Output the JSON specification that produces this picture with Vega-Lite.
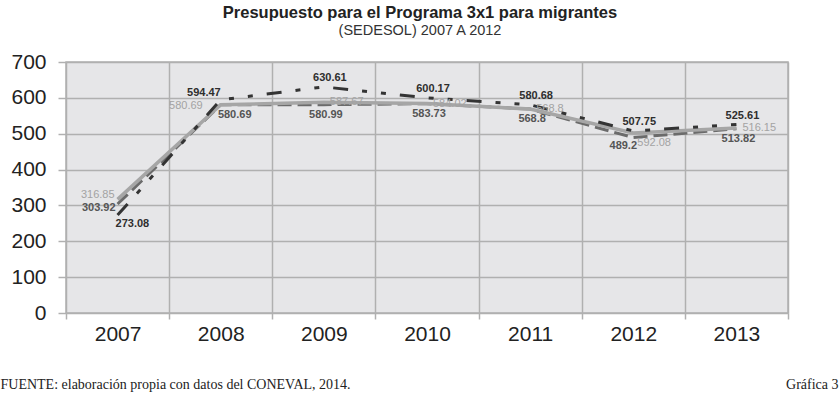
{
  "$schema": "https://vega.github.io/schema/vega-lite/v6.json",
  "width": 722,
  "height": 251,
  "autosize": {"type": "none"},
  "padding": {"left": 66, "top": 62, "right": 52, "bottom": 91},
  "background": "white",
  "config": {
    "view": {"fill": "#e6e6e8", "stroke": "#b0b0b0", "strokeWidth": 1.5},
    "font": "Liberation Sans"
  },
  "title": {
    "text": "Presupuesto para el Programa 3x1 para migrantes",
    "subtitle": "(SEDESOL) 2007 A 2012",
    "anchor": "middle",
    "font": "Liberation Sans",
    "fontSize": 16.5,
    "fontWeight": "bold",
    "color": "#222222",
    "subtitleFont": "Liberation Sans",
    "subtitleFontSize": 14.5,
    "subtitleColor": "#333333",
    "subtitlePadding": 2,
    "offset": 14,
    "dx": -7
  },
  "data": {
    "values": [
      {"year": "2007", "serie": "A", "v": 273.08, "label": "273.08"},
      {"year": "2008", "serie": "A", "v": 594.47, "label": "594.47"},
      {"year": "2009", "serie": "A", "v": 630.61, "label": "630.61"},
      {"year": "2010", "serie": "A", "v": 600.17, "label": "600.17"},
      {"year": "2011", "serie": "A", "v": 580.68, "label": "580.68"},
      {"year": "2012", "serie": "A", "v": 507.75, "label": "507.75"},
      {"year": "2013", "serie": "A", "v": 525.61, "label": "525.61"},
      {"year": "2007", "serie": "B", "v": 303.92, "label": "303.92"},
      {"year": "2008", "serie": "B", "v": 580.69, "label": "580.69"},
      {"year": "2009", "serie": "B", "v": 580.99, "label": "580.99"},
      {"year": "2010", "serie": "B", "v": 583.73, "label": "583.73"},
      {"year": "2011", "serie": "B", "v": 568.8, "label": "568.8"},
      {"year": "2012", "serie": "B", "v": 489.2, "label": "489.2"},
      {"year": "2013", "serie": "B", "v": 513.82, "label": "513.82"},
      {"year": "2007", "serie": "C", "v": 316.85, "label": "316.85"},
      {"year": "2008", "serie": "C", "v": 580.69, "label": "580.69"},
      {"year": "2009", "serie": "C", "v": 587.67, "label": "587.67"},
      {"year": "2010", "serie": "C", "v": 584.02, "label": "584.02"},
      {"year": "2011", "serie": "C", "v": 568.8, "label": "568.8"},
      {"year": "2012", "serie": "C", "v": 502.08, "label": "592.08"},
      {"year": "2013", "serie": "C", "v": 516.15, "label": "516.15"}
    ]
  },
  "encoding": {
    "x": {
      "field": "year",
      "type": "ordinal",
      "scale": {"type": "band", "paddingInner": 0, "paddingOuter": 0},
      "bandPosition": 0.5,
      "axis": {
        "title": "FUENTE: elaboración propia con datos del CONEVAL, 2014.",
        "titleFont": "Liberation Serif",
        "titleFontSize": 14,
        "titleFontWeight": "normal",
        "titleColor": "#222222",
        "titleAnchor": "start",
        "titleAlign": "left",
        "titleBaseline": "alphabetic",
        "titleX": -66,
        "titleY": 75,
        "labelAngle": 0,
        "labelFontSize": 21,
        "labelColor": "#222222",
        "labelPadding": 4,
        "tickBand": "extent",
        "grid": true,
        "gridColor": "#b0b0b0",
        "gridWidth": 1.5,
        "domain": false,
        "tickColor": "#b0b0b0",
        "tickSize": 6,
        "tickWidth": 1.5
      }
    }
  },
  "layer": [
    {
      "transform": [{"filter": "datum.serie == 'B'"}],
      "mark": {"type": "line", "stroke": "#6b6b6b", "strokeWidth": 3, "strokeDash": [14, 6]},
      "encoding": {
        "y": {
          "field": "v",
          "type": "quantitative",
          "scale": {"domain": [0, 700], "nice": false},
          "axis": {
            "title": null,
            "values": [0, 100, 200, 300, 400, 500, 600, 700],
            "labelFontSize": 21,
            "labelColor": "#222222",
            "labelPadding": 12,
            "tickSize": 8,
            "tickColor": "#b0b0b0",
            "tickWidth": 1.5,
            "gridColor": "#b0b0b0",
            "gridWidth": 1.5,
            "domain": false
          }
        }
      }
    },
    {
      "transform": [{"filter": "datum.serie == 'C'"}],
      "mark": {"type": "line", "stroke": "#a6a6a6", "strokeWidth": 3.5},
      "encoding": {"y": {"field": "v", "type": "quantitative", "axis": null}}
    },
    {
      "transform": [{"filter": "datum.serie == 'A'"}],
      "mark": {"type": "line", "stroke": "#343434", "strokeWidth": 3, "strokeDash": [15, 14, 5, 14, 5, 14]},
      "encoding": {"y": {"field": "v", "type": "quantitative", "axis": null}}
    },
    {
      "transform": [{"filter": "datum.serie == 'A' && datum.year != '2007' && datum.year != '2008'"}],
      "mark": {"type": "text", "fontSize": 11, "fontWeight": "bold", "color": "#2e2e2e", "align": "center", "baseline": "middle", "dx": 6, "dy": -9},
      "encoding": {"y": {"field": "v", "type": "quantitative", "axis": null}, "text": {"field": "label"}}
    },
    {
      "transform": [{"filter": "datum.serie == 'A' && datum.year == '2008'"}],
      "mark": {"type": "text", "fontSize": 11, "fontWeight": "bold", "color": "#2e2e2e", "align": "right", "baseline": "middle", "dx": 0, "dy": -7},
      "encoding": {"y": {"field": "v", "type": "quantitative", "axis": null}, "text": {"field": "label"}}
    },
    {
      "transform": [{"filter": "datum.serie == 'A' && datum.year == '2007'"}],
      "mark": {"type": "text", "fontSize": 11, "fontWeight": "bold", "color": "#2e2e2e", "align": "left", "baseline": "middle", "dx": -2, "dy": 9},
      "encoding": {"y": {"field": "v", "type": "quantitative", "axis": null}, "text": {"field": "label"}}
    },
    {
      "transform": [{"filter": "datum.serie == 'B' && datum.year != '2007' && datum.year != '2008' && datum.year != '2012'"}],
      "mark": {"type": "text", "fontSize": 11, "fontWeight": "bold", "color": "#555555", "align": "center", "baseline": "middle", "dx": 2, "dy": 10},
      "encoding": {"y": {"field": "v", "type": "quantitative", "axis": null}, "text": {"field": "label"}}
    },
    {
      "transform": [{"filter": "datum.serie == 'B' && datum.year == '2008'"}],
      "mark": {"type": "text", "fontSize": 11, "fontWeight": "bold", "color": "#555555", "align": "center", "baseline": "middle", "dx": 14, "dy": 10},
      "encoding": {"y": {"field": "v", "type": "quantitative", "axis": null}, "text": {"field": "label"}}
    },
    {
      "transform": [{"filter": "datum.serie == 'B' && datum.year == '2012'"}],
      "mark": {"type": "text", "fontSize": 11, "fontWeight": "bold", "color": "#555555", "align": "center", "baseline": "middle", "dx": -10, "dy": 8},
      "encoding": {"y": {"field": "v", "type": "quantitative", "axis": null}, "text": {"field": "label"}}
    },
    {
      "transform": [{"filter": "datum.serie == 'B' && datum.year == '2007'"}],
      "mark": {"type": "text", "fontSize": 11, "fontWeight": "bold", "color": "#555555", "align": "right", "baseline": "middle", "dx": -2, "dy": 4},
      "encoding": {"y": {"field": "v", "type": "quantitative", "axis": null}, "text": {"field": "label"}}
    },
    {
      "transform": [{"filter": "datum.serie == 'C' && datum.year != '2007' && datum.year != '2008' && datum.year != '2012'"}],
      "mark": {"type": "text", "fontSize": 11, "color": "#a3a3a3", "align": "left", "baseline": "middle", "dx": 6, "dy": 0},
      "encoding": {"y": {"field": "v", "type": "quantitative", "axis": null}, "text": {"field": "label"}}
    },
    {
      "transform": [{"filter": "datum.serie == 'C' && datum.year == '2012'"}],
      "mark": {"type": "text", "fontSize": 11, "color": "#a3a3a3", "align": "left", "baseline": "middle", "dx": 4, "dy": 10},
      "encoding": {"y": {"field": "v", "type": "quantitative", "axis": null}, "text": {"field": "label"}}
    },
    {
      "transform": [{"filter": "datum.serie == 'C' && datum.year == '2008'"}],
      "mark": {"type": "text", "fontSize": 11, "color": "#a3a3a3", "align": "right", "baseline": "middle", "dx": -18, "dy": 1},
      "encoding": {"y": {"field": "v", "type": "quantitative", "axis": null}, "text": {"field": "label"}}
    },
    {
      "transform": [{"filter": "datum.serie == 'C' && datum.year == '2007'"}],
      "mark": {"type": "text", "fontSize": 11, "color": "#a3a3a3", "align": "right", "baseline": "middle", "dx": -3, "dy": -4},
      "encoding": {
        "y": {
          "field": "v",
          "type": "quantitative",
          "axis": {
            "orient": "right",
            "title": "Gráfica 3",
            "titleFont": "Liberation Serif",
            "titleFontSize": 14,
            "titleFontWeight": "normal",
            "titleColor": "#222222",
            "titleAngle": 0,
            "titleAlign": "right",
            "titleBaseline": "alphabetic",
            "titleX": 50,
            "titleY": 326,
            "labels": false,
            "ticks": false,
            "domain": false,
            "grid": false
          }
        },
        "text": {"field": "label"}
      }
    }
  ],
  "resolve": {"axis": {"y": "independent"}}
}
